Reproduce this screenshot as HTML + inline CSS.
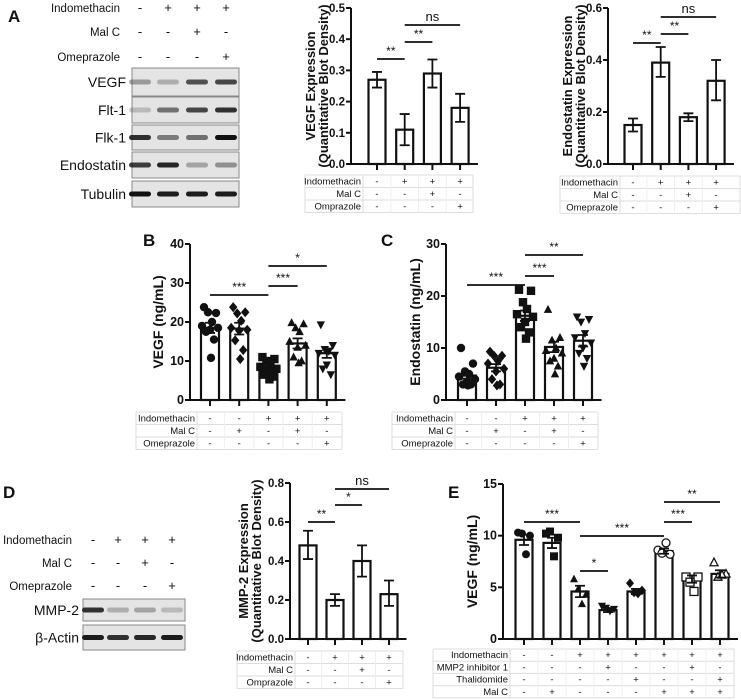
<!DOCTYPE html>
<html><head><meta charset="utf-8"><style>
html,body{margin:0;padding:0;background:#fff}
svg{display:block;font-family:"Liberation Sans",Arial,sans-serif}
</style></head><body>
<svg id="fig" width="741" height="700" viewBox="0 0 741 700" xmlns="http://www.w3.org/2000/svg"></svg>
<script>
// ===== DATA =====
const aVegfMean=[0.27,0.11,0.29,0.18];
const aVegfLo=[0.245,0.06,0.245,0.135];
const aVegfHi=[0.295,0.16,0.335,0.225];
const aEndoMean=[0.15,0.39,0.18,0.32];
const aEndoLo=[0.125,0.335,0.165,0.245];
const aEndoHi=[0.175,0.45,0.195,0.40];
const dMean=[0.48,0.20,0.40,0.23];
const dLo=[0.41,0.17,0.32,0.17];
const dHi=[0.555,0.23,0.48,0.30];
const bMean=[18.5,18.3,7.9,14.5,12];
const bErr=[1.3,1.5,0.8,1.3,1.2];
const bPoints=[[23.8,22.3,22.5,20,19,18.5,18,17.5,15.5,10.8],[23.8,22.5,22.2,20.3,18.5,18,17.8,15.3,12.8,10.5],[11,10.5,10,9.5,8.5,8,7.5,6.5,6,5.3],[19.8,19.5,18.5,17.5,15,14,13.5,11,10,9.5],[19.3,14,13,12.5,12,11.5,9,8,6.5]];
const cMean=[4.7,6.2,16.2,10.2,11.4];
const cErr=[0.6,0.7,1.0,1.0,1.1];
const cPoints=[[10,7,5.5,5,4.5,4,3.5,3,3,2.8],[9.3,8.5,8.5,7.5,7,6,5.5,4,3,2.8],[21.2,21,18.8,17.5,16.5,16,15,14,13,11.8],[17.4,12,11.5,10,9.5,9,8,7.5,6.5,5],[16,15.5,15,12.8,12,11,10,9,8,6.5]];
const eMean=[9.6,9.3,4.6,2.8,4.6,8.5,5.8,6.3];
const eErr=[0.5,0.5,0.55,0.2,0.25,0.25,0.35,0.35];
const ePoints=[[10.3,10.0,10.2,8.2],[10.2,9.8,10.4,8.0],[5.8,4.3,4.8,3.4],[3.2,2.9,3.0,2.7],[5.4,4.7,4.5,4.4],[8.6,8.2,8.3,9.3],[6.0,6.0,5.5,4.6],[7.4,6.3,6.0,6.2]];
const ticksA1=[0,0.1,0.2,0.3,0.4,0.5], tickLabA1=["0.0","0.1","0.2","0.3","0.4","0.5"];
const ticksA2=[0,0.2,0.4,0.6], tickLabA2=["0.0","0.2","0.4","0.6"];
const ticksB=[0,10,20,30,40], tickLabB=["0","10","20","30","40"];
const ticksC=[0,10,20,30], tickLabC=["0","10","20","30"];
const ticksD=[0,0.2,0.4,0.6,0.8], tickLabD=["0.0","0.2","0.4","0.6","0.8"];
const ticksE=[0,5,10,15], tickLabE=["0","5","10","15"];
const tbl4Labels=["Indomethacin","Mal C","Omprazole"];
const tbl4End=["Indomethacin","Mal C","Omeprazole"];
const tbl4Signs=[["-","+","+","+"],["-","-","+","-"],["-","-","-","+"]];
const tbl5Labels=["Indomethacin","Mal C","Omeprazole"];
const tbl5Signs=[["-","-","+","+","+"],["-","+","-","+","-"],["-","-","-","-","+"]];
const tbl8Labels=["Indomethacin","MMP2 inhibitor 1","Thalidomide","Mal C"];
const tbl8Signs=[["-","-","+","+","+","+","+","+"],["-","-","-","+","-","-","+","-"],["-","-","-","-","+","-","-","+"],["-","+","-","-","-","+","+","+"]];

const NS="http://www.w3.org/2000/svg";
const svg=document.getElementById('fig');
function el(tag,attrs,parent,text){const e=document.createElementNS(NS,tag);for(const k in attrs)e.setAttribute(k,attrs[k]);if(text!==undefined)e.textContent=text;(parent||svg).appendChild(e);return e;}
function grp(name,parent){const g=document.createElementNS(NS,'g');


(parent||svg).appendChild(g);return g;}
function txt(g,x,y,s,size,anchor,weight,name){const t=el('text',{x:x,y:y,'font-size':size,'text-anchor':anchor||'start','font-weight':weight||'normal',fill:'#111'},g,s);


return t;}

function marker(g,type,x,y,s){let m;
 const open=type.startsWith('o');const t=open?type.slice(1):type;
 const st=open?{fill:'#fff',stroke:'#111','stroke-width':1.3}:{fill:'#111'};
 if(t==='circle')m=el('circle',Object.assign({cx:x,cy:y,r:s},st),g);
 else if(t==='square')m=el('rect',Object.assign({x:x-s,y:y-s,width:2*s,height:2*s},st),g);
 else if(t==='diamond')m=el('polygon',Object.assign({points:`${x},${y-s*1.2} ${x+s},${y} ${x},${y+s*1.2} ${x-s},${y}`},st),g);
 else if(t==='up')m=el('polygon',Object.assign({points:`${x},${y-s*1.1} ${x+s},${y+s*0.8} ${x-s},${y+s*0.8}`},st),g);
 else m=el('polygon',Object.assign({points:`${x},${y+s*1.1} ${x+s},${y-s*0.8} ${x-s},${y-s*0.8}`},st),g);
 
 
}

const jitter=[-6,6,-2,2,-8,8,0,-4,4,1];
function chart(o){
 const g=grp(o.name);
 const yS=v=>o.y0-(v/o.max)*(o.y0-o.yTop);
 const xS=i=>o.x0+i*o.step;
 o.means.forEach((m,i)=>{
  const r=el('rect',{x:xS(i)-o.bw/2,y:yS(m),width:o.bw,height:o.y0-yS(m),fill:'#fff',stroke:'#111','stroke-width':2.2},g);
  
  
 });
 if(o.points)o.points.forEach((arr,i)=>arr.forEach((v,k)=>marker(g,o.markers[i],xS(i)+jitter[k%jitter.length]*(o.jit||1),yS(v),o.ms)));
 o.means.forEach((m,i)=>{
  const lo=o.lo?o.lo[i]:m-o.err[i],hi=o.hi?o.hi[i]:m+o.err[i];
  const e=el('path',{d:`M${xS(i)},${yS(lo)}V${yS(hi)}M${xS(i)-5},${yS(hi)}H${xS(i)+5}M${xS(i)-5},${yS(lo)}H${xS(i)+5}`,stroke:'#111','stroke-width':1.8,fill:'none'},g);
  
  
 });
 const ax=el('path',{d:`M${o.ax},${o.yTop}V${o.y0}H${xS(o.means.length-1)+o.step/2+4}`,stroke:'#111','stroke-width':2,fill:'none'},g);
 
 
 o.ticks.forEach((t,i)=>{
  el('line',{x1:o.ax-5,x2:o.ax,y1:yS(t),y2:yS(t),stroke:'#111','stroke-width':2},g);
  txt(g,o.ax-6,yS(t)+4,o.tickLab[i],o.tf||12.5,'end','bold','y-tick-label');
 });
 o.means.forEach((m,i)=>el('line',{x1:xS(i),x2:xS(i),y1:o.y0,y2:o.y0+6,stroke:'#111','stroke-width':2},g));
 const cy=(o.y0+o.yTop)/2;
 o.title.forEach((s,k)=>{const t=txt(g,0,0,s,o.ttf||14,'middle','bold','y-axis-title');t.setAttribute('transform',`translate(${o.titleX+k*13},${cy}) rotate(-90)`);});
 o.sig.forEach(s=>{
  el('line',{x1:xS(s[0]),x2:xS(s[1]),y1:s[2],y2:s[2],stroke:'#111','stroke-width':1.8},g);
  txt(g,(xS(s[0])+xS(s[1]))/2,s[2]-4,s[3],s[3]==='ns'?13:12,'middle','normal','significance-label');
 });
 const tg=grp(o.name+'-table',g);
 const rows=o.tblLabels.length, rh=o.rowH;
 for(let r=0;r<=rows;r++)el('line',{x1:o.tx0,x2:o.tx1,y1:o.ty0+r*rh,y2:o.ty0+r*rh,stroke:'#ddd','stroke-width':1},tg);
 el('line',{x1:o.tx0,x2:o.tx0,y1:o.ty0,y2:o.ty0+rows*rh,stroke:'#ddd'},tg);
 el('line',{x1:o.tx1,x2:o.tx1,y1:o.ty0,y2:o.ty0+rows*rh,stroke:'#ddd'},tg);
 el('line',{x1:o.labEnd,x2:o.labEnd,y1:o.ty0,y2:o.ty0+rows*rh,stroke:'#ddd'},tg);
 for(let i=1;i<o.means.length;i++)el('line',{x1:xS(i)-o.step/2,x2:xS(i)-o.step/2,y1:o.ty0,y2:o.ty0+rows*rh,stroke:'#eee'},tg);
 o.tblLabels.forEach((l,r)=>{
  txt(tg,o.labEnd-2,o.ty0+r*rh+rh-3,l,9.5,'end','normal','table-row-label');
  o.signs[r].forEach((s,i)=>txt(tg,xS(i),o.ty0+r*rh+rh-3,s,9.5,'middle','normal','table-sign'));
 });
 return g;
}

[['A',8,22],['B',143,246],['C',381,246],['D',3,498],['E',448,498]].forEach(p=>txt(svg,p[1],p[2],p[0],17,'start','bold','panel-label-'+p[0].toLowerCase()));

function blot(name,headers,hx,hys,signs,cols,rowsLab,boxX0,boxX1,boxes,bands,labEnd){
 const g=grp(name);
 headers.forEach((h,r)=>{txt(g,hx,hys[r],h,11.5,'end','normal','treatment-label');signs[r].forEach((s,i)=>txt(g,cols[i],hys[r],s,13,'middle','normal','treatment-sign'));});
 rowsLab.forEach((l,r)=>{
  const b=boxes[r];
  el('rect',{x:boxX0,y:b[0],width:boxX1-boxX0,height:b[1]-b[0],fill:'#e4e4e4',stroke:'#888','stroke-width':1},g);
  txt(g,labEnd,(b[0]+b[1])/2+5,l,14,'end','normal','blot-label');
  bands[r].forEach((d,i)=>{const bb=el('rect',{x:cols[i]-11,y:(b[0]+b[1])/2-2.5,width:22,height:5,rx:2.5,fill:'#111','fill-opacity':d},g);
   
   });
 });
}
blot('blot-a',['Indomethacin','Mal C','Omeprazole'],120,[12,36,61],tbl4Signs,[140,168,197,226],['VEGF','Flt-1','Flk-1','Endostatin','Tubulin'],132,239,
 [[68,96],[97,123],[125,150],[152,178],[181,207]],
 [[0.35,0.25,0.7,0.75],[0.2,0.55,0.75,0.85],[0.85,0.5,0.55,1],[0.8,0.9,0.3,0.4],[1,0.95,0.95,0.95]],126);
blot('blot-d',['Indomethacin','Mal C','Omeprazole'],72,[544,567,590],tbl4Signs,[93,118,145,172],['MMP-2','β-Actin'],83,185,
 [[599,621],[625,650]],[[0.85,0.25,0.3,0.2],[0.95,0.85,0.9,0.95]],79);

chart({name:'chart-a-vegf',x0:377,step:27.7,bw:17,ax:351,y0:164,yTop:8,max:0.5,ticks:ticksA1,tickLab:tickLabA1,means:aVegfMean,lo:aVegfLo,hi:aVegfHi,tf:11.5,ttf:13,
 title:['VEGF Expression','(Quantitative Blot Density)'],titleX:315,sig:[[0,1,59,'**'],[1,2,42,'**'],[1,3,25,'ns']],
 tx0:305,tx1:473,labEnd:363,ty0:175,rowH:12.5,tblLabels:tbl4Labels,signs:tbl4Signs});
chart({name:'chart-a-endostatin',x0:633,step:27.7,bw:17,ax:608,y0:164,yTop:8,max:0.6,ticks:ticksA2,tickLab:tickLabA2,means:aEndoMean,lo:aEndoLo,hi:aEndoHi,tf:11.5,ttf:13,
 title:['Endostatin Expression','(Quantitative Blot Density)'],titleX:572,sig:[[0,1,43,'**'],[1,2,34,'**'],[1,3,17,'ns']],
 tx0:560,tx1:740,labEnd:620,ty0:176,rowH:12.5,tblLabels:tbl4End,signs:tbl4Signs});
chart({name:'chart-b',x0:210,step:29.2,bw:18,ax:190,y0:400,yTop:244,max:40,ticks:ticksB,tickLab:tickLabB,means:bMean,err:bErr,points:bPoints,
 markers:['circle','diamond','square','up','down'],ms:4.2,
 title:['VEGF  (ng/mL)'],titleX:163,sig:[[0,2,295,'***'],[2,3,286,'***'],[2,4,266,'*']],
 tx0:136,tx1:342,labEnd:197,ty0:412,rowH:12.5,tblLabels:tbl5Labels,signs:tbl5Signs});
chart({name:'chart-c',x0:467,step:29,bw:18,ax:446,y0:400,yTop:244,max:30,ticks:ticksC,tickLab:tickLabC,means:cMean,err:cErr,points:cPoints,
 markers:['circle','diamond','square','up','down'],ms:4.2,
 title:['Endostatin (ng/mL)'],titleX:420,sig:[[0,2,285,'***'],[2,3,276,'***'],[2,4,255,'**']],
 tx0:392,tx1:598,labEnd:455,ty0:412,rowH:12.5,tblLabels:tbl5Labels,signs:tbl5Signs});
chart({name:'chart-d',x0:308,step:27,bw:17,ax:290,y0:639,yTop:483,max:0.8,ticks:ticksD,tickLab:tickLabD,means:dMean,lo:dLo,hi:dHi,tf:11.5,ttf:13,
 title:['MMP-2 Expression','(Quantitative Blot Density)'],titleX:248,sig:[[0,1,522,'**'],[1,2,505,'*'],[1,3,489,'ns']],
 tx0:237,tx1:403,labEnd:295,ty0:651,rowH:12.5,tblLabels:tbl4Labels,signs:tbl4Signs});
chart({name:'chart-e',x0:524,step:28,bw:17,ax:503,y0:639,yTop:484,max:15,ticks:ticksE,tickLab:tickLabE,means:eMean,err:eErr,points:ePoints,
 markers:['circle','square','up','down','diamond','ocircle','osquare','oup'],ms:4,jit:1,
 title:['VEGF  (ng/mL)'],titleX:477,sig:[[0,2,522,'***'],[2,5,536,'***'],[2,3,571,'*'],[5,6,522,'***'],[5,7,502,'**']],
 tx0:433,tx1:734,labEnd:510,ty0:649,rowH:12.2,tblLabels:tbl8Labels,signs:tbl8Signs});
</script>
</body></html>
